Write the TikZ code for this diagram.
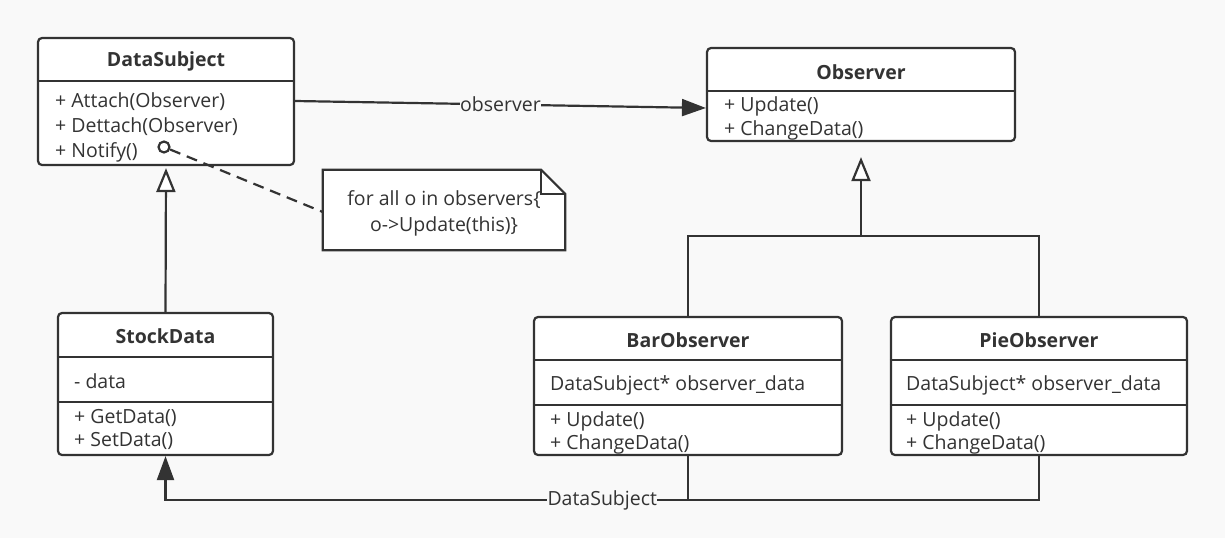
\documentclass[tikz,border=0pt]{standalone}
\usepackage{fontspec}
\setmainfont{Open Sans}
\usetikzlibrary{arrows.meta}
\usetikzlibrary{calc}

\definecolor{bgcol}{HTML}{F9F9F9}
\definecolor{inkcol}{HTML}{333333}

\tikzset{
  classbox/.style={draw=inkcol, line width=2.2pt, rounded corners=4pt, fill=white, inner sep=0pt},
  classname/.style={text=inkcol, font=\fontsize{19.5}{22}\selectfont\bfseries},
  member/.style={text=inkcol, font=\fontsize{19.5}{22}\selectfont, anchor=west, inner sep=0pt},
  linklabel/.style={text=inkcol, font=\fontsize{19.5}{22}\selectfont, fill=bgcol, inner sep=0.5pt},
  link/.style={draw=inkcol, line width=2.2pt},
  inherit/.style={link, -{Triangle[open, length=24pt, width=19pt, fill=white]}},
  assoc/.style={link, -{Triangle[length=24pt, width=17pt]}}
}

\begin{document}
\begin{tikzpicture}[x=1pt,y=-1pt]

% Background and page size
\useasboundingbox[fill=bgcol] (0,0) rectangle (1225,538);

% Class boxes
\node[classbox, minimum width=256pt, minimum height=127pt] (subject) at (166,101.5) {};
\node[classbox, minimum width=308pt, minimum height=93pt] (observer) at (861,94.5) {};
\node[classbox, minimum width=215pt, minimum height=142pt] (stock) at (165.5,384) {};
\node[classbox, minimum width=308pt, minimum height=138pt] (barobs) at (688,386) {};
\node[classbox, minimum width=296pt, minimum height=138pt] (pieobs) at (1039,386) {};

% Compartment lines
\draw[link] ([yshift=-44pt]subject.north west) -- ([yshift=-44pt]subject.north east);
\draw[link] ([yshift=-44pt]observer.north west) -- ([yshift=-44pt]observer.north east);
\draw[link] ([yshift=-45pt]stock.north west) -- ([yshift=-45pt]stock.north east);
\draw[link] ([yshift=-90pt]stock.north west) -- ([yshift=-90pt]stock.north east);
\foreach \cls in {barobs,pieobs} {
  \draw[link] ([yshift=-44pt]\cls.north west) -- ([yshift=-44pt]\cls.north east);
  \draw[link] ([yshift=-89pt]\cls.north west) -- ([yshift=-89pt]\cls.north east);
}

% Class names
\node[classname] (subjectname) at (166,61) {DataSubject};
\node[classname] (observername) at (861,72) {Observer};
\node[classname] (stockname) at (165.5,336) {StockData};
\node[classname] (barname) at (688,340) {BarObserver};
\node[classname] (piename) at (1039,340) {PieObserver};

% Members
\node[member] (attach) at (55,102) {+ Attach(Observer)};
\node[member] (dettach) at (55,127) {+ Dettach(Observer)};
\node[member] (notify) at (55,152) {+ Notify()};
\node[member] (obsupdate) at (724,106) {+ Update()};
\node[member] (obschange) at (724,130) {+ ChangeData()};
\node[member] (stockdata) at (74,381) {- data};
\node[member] (getdata) at (74,418) {+ GetData()};
\node[member] (setdata) at (74,441) {+ SetData()};
\foreach \cls/\x in {bar/550,pie/906} {
  \node[member] (\cls attr) at (\x,385) {DataSubject* observer\_data};
  \node[member] (\cls update) at (\x,421) {+ Update()};
  \node[member] (\cls change) at (\x,444) {+ ChangeData()};
}

% Note attached to Notify()
\node[minimum width=242pt, minimum height=80pt, inner sep=0pt] (note) at (444,210) {};
\draw[link, fill=white] (note.south west) -- (note.north west) -- ([xshift=-24pt]note.north east)
  -- ([yshift=-24pt]note.north east) -- (note.south east) -- cycle;
\draw[link, line width=1.8pt] ([xshift=-24pt]note.north east) |- ([yshift=-24pt]note.north east);
\node[text=inkcol, font=\fontsize{19.5}{22}\selectfont] (notetop) at (444,200) {for all o in observers\{};
\node[text=inkcol, font=\fontsize{19.5}{22}\selectfont] (notebot) at (444,226) {o->Update(this)\}};
\node[circle, draw=inkcol, line width=2.2pt, minimum size=11pt, inner sep=0pt] (dot) at (164,147) {};
\draw[link, dash pattern=on 11pt off 7pt] (dot) -- ([yshift=-2pt]note.west);

% Association DataSubject -> Observer
\draw[assoc] ([yshift=0.5pt]subject.east) -- node[linklabel, pos=0.5] {observer} ([yshift=-13.5pt]observer.west);

% Inheritance StockData -> DataSubject
\draw[inherit] (stock.north) -- ([yshift=-2pt]subject.south);

% Inheritance BarObserver, PieObserver -> Observer
\coordinate (fork) at (observer.south |- 0,236);
\draw[link] (barobs.north) |- (fork) -| (pieobs.north);
\draw[inherit] (fork) -- ([yshift=-15pt]observer.south);

% Observers -> StockData
\draw[link] (barobs.south) -- (barobs.south |- 0,499);
\draw[assoc] (pieobs.south) -- ++(0,44) -| node[linklabel, pos=0.25] {DataSubject} (stock.south);

\end{tikzpicture}
\end{document}
